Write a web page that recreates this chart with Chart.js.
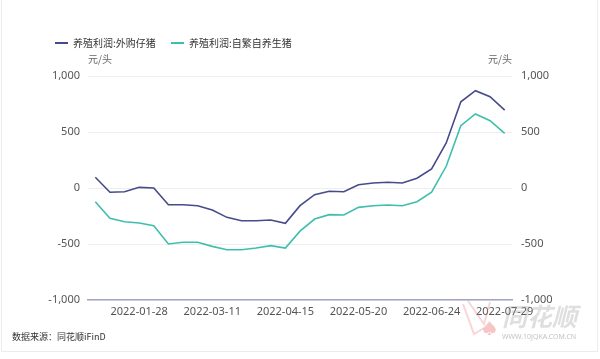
<!DOCTYPE html>
<html>
<head>
<meta charset="utf-8">
<script src="https://cdn.jsdelivr.net/npm/chart.js@4.4.0/dist/chart.umd.min.js"></script>
<style>
    body { margin: 0; background: #fff; font-family: "Noto Sans", "Noto Sans CJK SC", sans-serif; }
    #wrap { position: relative; width: 600px; height: 359px; overflow: hidden; }
    #frame { position: absolute; left: 1px; top: 0; width: 597px; height: 352px; border: 1px solid #ececec; border-top: none; box-sizing: border-box; }
    canvas { position: absolute; left: 0; top: 0; }
    .legend { position: absolute; top: 35px; font-size: 10px; color: #333; font-family: "Noto Sans CJK SC", sans-serif; white-space: nowrap; }
    .legend span.sw { display: inline-block; width: 13px; height: 2px; vertical-align: middle; margin-right: 5px; margin-top: -2px; }
    .unit { position: absolute; top: 51px; font-size: 10px; color: #666; font-family: "Noto Sans CJK SC", sans-serif; }
    #source { position: absolute; left: 12px; top: 330px; font-size: 9px; color: #333; font-family: "Noto Sans CJK SC", sans-serif; }
    #mark { position: absolute; left: 502px; top: 303px; line-height: 1; font-size: 25px; font-style: italic; font-weight: bold; color: rgba(150, 150, 150, 0.3); font-family: "Noto Sans CJK SC", sans-serif; }
    #markUrl { position: absolute; left: 502px; top: 332px; font-size: 7px; color: #c4c4c4; }
    #logo { position: absolute; left: 460px; top: 298px; }
</style>
</head>
<body>
<div id="wrap">
    <div id="frame"></div>
    <canvas id="profitChart" width="600" height="359"></canvas>
    <div class="legend" style="left:55px"><span class="sw" style="background:#464b8b"></span>养殖利润:外购仔猪</div>
    <div class="legend" style="left:171px"><span class="sw" style="background:#3ebfae"></span>养殖利润:自繁自养生猪</div>
    <div class="unit" style="left:88px">元/头</div>
    <div class="unit" style="left:488px">元/头</div>
    <svg id="logo" width="40" height="40">
        <polyline points="3,6 14,36 24,30" fill="none" stroke="rgba(235,120,120,0.3)" stroke-width="2"/>
        <polyline points="8,3 24,26 30,4" fill="none" stroke="rgba(235,120,120,0.3)" stroke-width="2"/>
        <text x="22" y="36" font-size="15" fill="rgba(235,110,110,0.4)">♠</text>
    </svg>
    <div id="mark">同花顺</div>
    <div id="markUrl">WWW.10JQKA.COM.CN</div>
    <div id="source">数据来源：同花顺iFinD</div>
</div>
<script>
const dates = [
    "2022-01-07", "2022-01-14", "2022-01-21", "2022-01-28", "2022-02-11",
    "2022-02-18", "2022-02-25", "2022-03-04", "2022-03-11", "2022-03-18",
    "2022-03-25", "2022-04-01", "2022-04-08", "2022-04-15", "2022-04-22",
    "2022-04-29", "2022-05-06", "2022-05-13", "2022-05-20", "2022-05-27",
    "2022-06-03", "2022-06-10", "2022-06-17", "2022-06-24", "2022-07-01",
    "2022-07-08", "2022-07-15", "2022-07-22", "2022-07-29"
];
const tickLabels = ["2022-01-28", "2022-03-11", "2022-04-15", "2022-05-20", "2022-06-24", "2022-07-29"];
const yTicks = [-1000, -500, 0, 500, 1000];

// 养殖利润:外购仔猪
const purchasedPiglets = [96, -38, -33, 6, 0, -149, -149, -158, -196, -262, -292, -292, -286, -315, -158,
    -60, -29, -33, 29, 45, 51, 45, 87, 170, 402, 770, 869, 815, 696];
// 养殖利润:自繁自养生猪
const selfBred = [-122, -271, -301, -313, -337, -500, -485, -485, -521, -551, -551, -536, -515, -536, -385,
    -277, -238, -241, -173, -158, -152, -158, -122, -38, 194, 556, 661, 601, 488];

const tickFont = { family: "'Noto Sans', 'Noto Sans CJK SC', sans-serif", size: 11 };

const yAxis = (position, width, pad, showGrid) => ({
    type: "linear",
    position: position,
    min: -1000,
    max: 1000,
    afterBuildTicks: (axis) => { axis.ticks = yTicks.map((v) => ({ value: v })); },
    afterFit: (axis) => { axis.width = width; },
    grid: { display: showGrid, color: "#eeeeee", drawTicks: false },
    border: { display: false },
    ticks: {
        padding: pad,
        color: "#555",
        font: tickFont,
        callback: (v) => v.toLocaleString("en-US")
    }
});

new Chart(document.getElementById("profitChart"), {
    type: "line",
    data: {
        labels: dates,
        datasets: [
            {
                label: "养殖利润:外购仔猪",
                data: purchasedPiglets,
                borderColor: "#464b8b",
                borderWidth: 1.6,
                pointRadius: 0,
                yAxisID: "y"
            },
            {
                label: "养殖利润:自繁自养生猪",
                data: selfBred,
                borderColor: "#3ebfae",
                borderWidth: 1.6,
                pointRadius: 0,
                yAxisID: "y"
            }
        ]
    },
    options: {
        responsive: false,
        animation: false,
        devicePixelRatio: 1,
        layout: { padding: { top: 76, bottom: 34, left: 0, right: 0 } },
        plugins: { legend: { display: false }, tooltip: { enabled: false } },
        scales: {
            x: {
                offset: true,
                afterFit: (axis) => { axis.height = 25; },
                grid: { display: false, drawTicks: false },
                border: { display: true, color: "#a4a7c2", width: 1.5 },
                ticks: {
                    autoSkip: false,
                    maxRotation: 0,
                    padding: 5,
                    color: "#555",
                    font: tickFont,
                    callback: function (value) {
                        const label = this.getLabelForValue(value);
                        return tickLabels.includes(label) ? label : "";
                    }
                }
            },
            y: yAxis("left", 88, 8, true),
            y1: yAxis("right", 88, 9, false)
        }
    }
});
</script>
</body>
</html>
